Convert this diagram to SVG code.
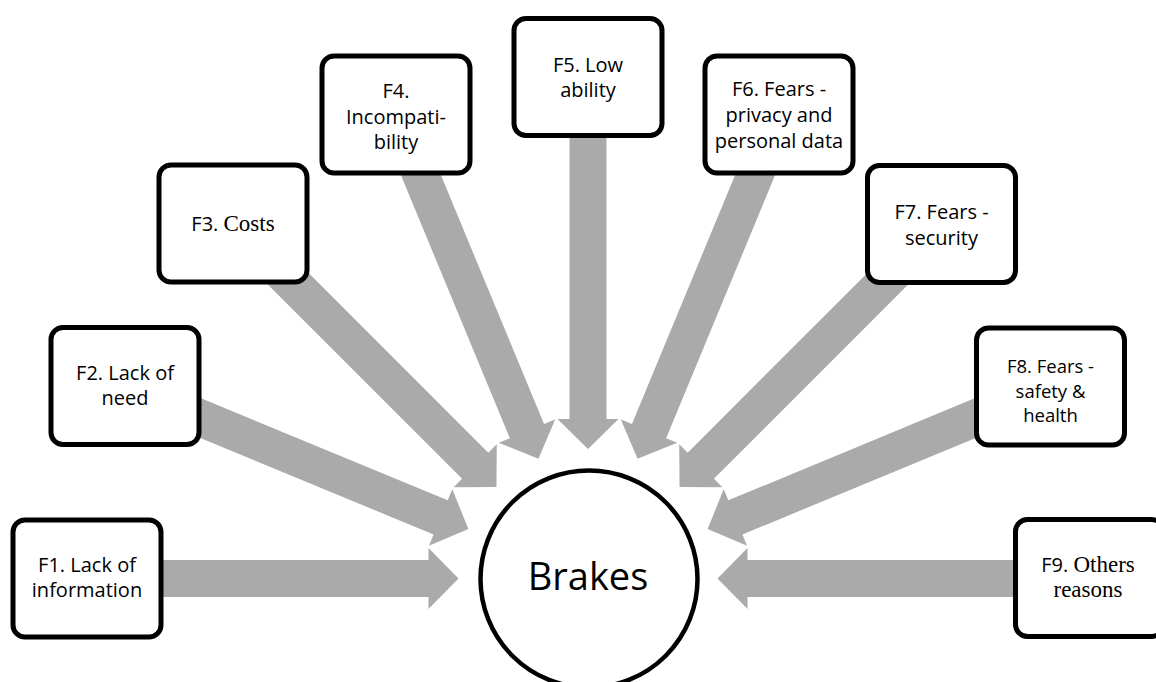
<svg xmlns="http://www.w3.org/2000/svg" xmlns:xlink="http://www.w3.org/1999/xlink" width="1156" height="682" viewBox="0 0 1156 682">
<style>
.box{fill:#fff;stroke:#000;stroke-width:5}
.t{font-family:"Open Sans","Noto Sans",sans-serif;font-size:20px;fill:#000;text-anchor:middle}
.arrow{fill:#aaaaaa}
</style>
<defs>
<polygon id="arr" points="-372,-18.5 -30,-18.5 -30,-30.5 0,0 -30,30.5 -30,18.5 -372,18.5"/>
</defs>
<rect width="1156" height="682" fill="#fff"/>
<g id="connectors" class="arrow">
<use xlink:href="#arr" transform="translate(588,578.5) rotate(0) translate(-129.5,0)"/>
<use xlink:href="#arr" transform="translate(588,578.5) rotate(22.5) translate(-129.5,0)"/>
<use xlink:href="#arr" transform="translate(588,578.5) rotate(45) translate(-129.5,0)"/>
<use xlink:href="#arr" transform="translate(588,578.5) rotate(67.5) translate(-129.5,0)"/>
<use xlink:href="#arr" transform="translate(588,578.5) rotate(90) translate(-129.5,0)"/>
<use xlink:href="#arr" transform="translate(588,578.5) rotate(112.5) translate(-129.5,0)"/>
<use xlink:href="#arr" transform="translate(588,578.5) rotate(135) translate(-129.5,0)"/>
<use xlink:href="#arr" transform="translate(588,578.5) rotate(157.5) translate(-129.5,0)"/>
<use xlink:href="#arr" transform="translate(588,578.5) rotate(180) translate(-129.5,0)"/>
</g>
<g id="center">
<circle cx="589" cy="579" r="108.5" fill="#fff" stroke="#000" stroke-width="4.5"/>
<text class="t" x="588" y="590" style="font-size:38px">Brakes</text>
</g>
<g id="f1">
<rect class="box" x="13" y="520" width="148" height="117" rx="12"/>
<text class="t" x="87" y="572">F1. Lack of</text>
<text class="t" x="87" y="597">information</text>
</g>
<g id="f2">
<rect class="box" x="51" y="327.5" width="148" height="117" rx="12"/>
<text class="t" x="125" y="380">F2. Lack of</text>
<text class="t" x="125" y="405">need</text>
</g>
<g id="f3">
<rect class="box" x="159" y="165" width="148" height="117" rx="12"/>
<text class="t" x="233" y="231">F3. <tspan style="font-family:'Liberation Serif','Times New Roman',serif;font-size:23px">Costs</tspan></text>
</g>
<g id="f4">
<rect class="box" x="322" y="56" width="148" height="117" rx="12"/>
<text class="t" x="396" y="98">F4.</text>
<text class="t" x="396" y="123.5">Incompati-</text>
<text class="t" x="396" y="148.5">bility</text>
</g>
<g id="f5">
<rect class="box" x="514" y="18.5" width="148" height="117" rx="12"/>
<text class="t" x="588" y="72">F5. Low</text>
<text class="t" x="588" y="97">ability</text>
</g>
<g id="f6">
<rect class="box" x="705" y="56" width="148" height="117" rx="12"/>
<text class="t" x="779" y="96">F6. Fears -</text>
<text class="t" x="779" y="122">privacy and</text>
<text class="t" x="779" y="148">personal data</text>
</g>
<g id="f7">
<rect class="box" x="867.5" y="165.5" width="148" height="117" rx="12"/>
<text class="t" x="941.5" y="219">F7. Fears -</text>
<text class="t" x="941.5" y="244.5">security</text>
</g>
<g id="f8">
<rect class="box" x="976.5" y="328" width="148" height="117" rx="12"/>
<text class="t" x="1050.5" y="373" style="font-size:18.5px">F8. Fears -</text>
<text class="t" x="1050.5" y="397.5" style="font-size:18.5px">safety &amp;</text>
<text class="t" x="1050.5" y="422" style="font-size:18.5px">health</text>
</g>
<g id="f9">
<rect class="box" x="1015.5" y="519.5" width="148" height="117" rx="12"/>
<text class="t" x="1088" y="572">F9. <tspan style="font-family:'Liberation Serif','Times New Roman',serif;font-size:23px">Others</tspan></text>
<text class="t" x="1088" y="597" style="font-family:'Liberation Serif','Times New Roman',serif;font-size:23px">reasons</text>
</g>
</svg>
